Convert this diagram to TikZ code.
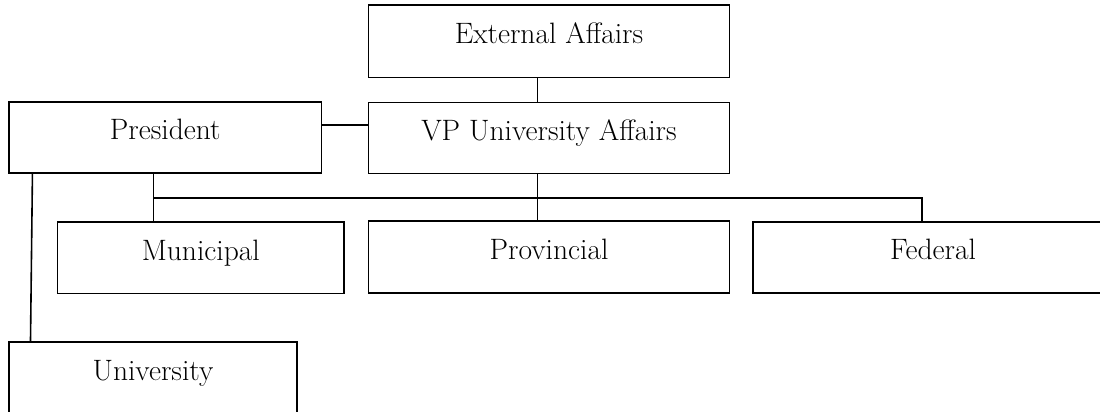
\documentclass[tikz,border=0pt]{standalone}
\usepackage{tikz}
\begin{document}
\begin{tikzpicture}[x=1pt,y=-1pt,
  orgbox/.style={draw=black, line width=1.6pt, rectangle, inner sep=0pt,
    font=\fontsize{29.5}{34}\selectfont, text height=14pt, text depth=9pt},
  conn/.style={draw=black, line width=1.6pt}]
\useasboundingbox (0,0) rectangle (1100,412);
\clip (0,0) rectangle (1100,412);
\node[orgbox, minimum width=361pt, minimum height=72.3pt] (ext) at (549,41.2) {External Affairs};
\node[orgbox, minimum width=312.7pt, minimum height=71pt] (pres) at (165.3,137.2) {President};
\node[orgbox, minimum width=361pt, minimum height=71pt] (vp) at (549,137.8) {VP University Affairs};
\node[orgbox, minimum width=286.3pt, minimum height=71.6pt] (mun) at (200.8,257.5) {Municipal};
\node[orgbox, minimum width=361pt, minimum height=72.3pt] (prov) at (549,256.9) {Provincial};
\node[orgbox, minimum width=360pt, minimum height=71.3pt] (fed) at (933,257.4) {Federal};
\node[orgbox, minimum width=288pt, minimum height=71.6pt] (uni) at (153,377.5) {University};
\coordinate (vx) at (537.3,0);
\coordinate (px) at (153.3,0);
\coordinate (fx) at (921.7,0);
\coordinate (hy) at (0,197.7);
\coordinate (py) at (0,125);
\draw[conn] (vx |- ext.south) -- (vx |- vp.north);
\draw[conn] (pres.east |- py) -- (vp.west |- py);
\draw[conn] (vx |- vp.south) -- (vx |- prov.north);
\draw[conn] (px |- pres.south) -- (px |- mun.north);
\draw[conn] (px |- hy) -- (fx |- hy) -- (fx |- fed.north);
\draw[conn] ([xshift=24.3pt]pres.south west) -- ([xshift=22.3pt]uni.north west);
\end{tikzpicture}
\end{document}
